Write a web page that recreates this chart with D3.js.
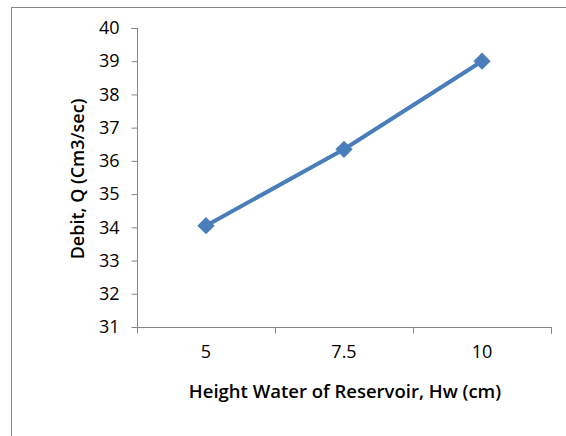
<!DOCTYPE html>
<html><head><meta charset="utf-8">
<script src="https://cdn.jsdelivr.net/npm/d3@7"></script>
<style>body{margin:0;background:#fff}svg{display:block}text{font-family:"Open Sans",sans-serif;fill:#000}</style>
</head><body><svg id="c" width="566" height="436"></svg>
<script>
const categories = ["5", "7.5", "10"];
const debit = [34.05, 36.35, 39.0];
const yTicks = [31, 32, 33, 34, 35, 36, 37, 38, 39, 40];

const svg = d3.select("#c");
svg.append("rect").attr("x", 11.5).attr("y", 7.5).attr("width", 600).attr("height", 500)
  .attr("fill", "#fff").attr("stroke", "#888").attr("stroke-width", 1);

const x = d3.scaleBand().domain(categories).range([137, 551]);
const y = d3.scaleLinear().domain([31, 40]).range([327, 28]);

const ya = svg.append("g").attr("transform", "translate(137.5,0)")
  .call(d3.axisLeft(y).tickValues(yTicks).tickSize(6).tickPadding(12).tickFormat(d3.format("d")));
ya.select(".domain").attr("stroke", "#868686").attr("d", `M-6,${y(40)+0.5}H0V${y(31)+0.5}`);
ya.selectAll(".tick line").attr("stroke", "#868686");
ya.selectAll("text").style("font-size", "18px").attr("fill", "#000");

const xa = svg.append("g").attr("transform", `translate(0,${y(31)+0.5})`)
  .call(d3.axisBottom(x).tickSize(0).tickPadding(18));
xa.select(".domain").attr("stroke", "#868686").attr("d", `M137.5,0H551.5V6`);
xa.selectAll(".tick line").remove();
xa.selectAll("text").style("font-size", "18px").attr("fill", "#000");
const bounds = [137, 275, 413, 551];
xa.selectAll(".sep").data(bounds).enter().append("line").attr("class", "sep")
  .attr("x1", d => d + 0.5).attr("x2", d => d + 0.5).attr("y1", 0).attr("y2", 6).attr("stroke", "#868686");

const pts = categories.map((c, i) => [x(c) + x.bandwidth() / 2, y(debit[i])]);
svg.append("path").attr("d", d3.line()(pts)).attr("fill", "none")
  .attr("stroke", "#4A7EBB").attr("stroke-width", 4).attr("stroke-linejoin", "round");
svg.selectAll(".m").data(pts).enter().append("path").attr("class", "m")
  .attr("transform", d => `translate(${d[0]},${d[1]})`)
  .attr("d", d3.symbol().type(d3.symbolDiamond2).size(190)).attr("fill", "#4A7EBB");

svg.append("text").attr("x", 345).attr("y", 398).attr("text-anchor", "middle")
  .style("font-size", "18.5px").style("font-weight", "600").text("Height Water of Reservoir, Hw (cm)");
svg.append("text").attr("transform", "translate(84,179) rotate(-90)").attr("text-anchor", "middle")
  .style("font-size", "18px").style("font-weight", "600").text("Debit, Q (Cm3/sec)");
</script></body></html>
